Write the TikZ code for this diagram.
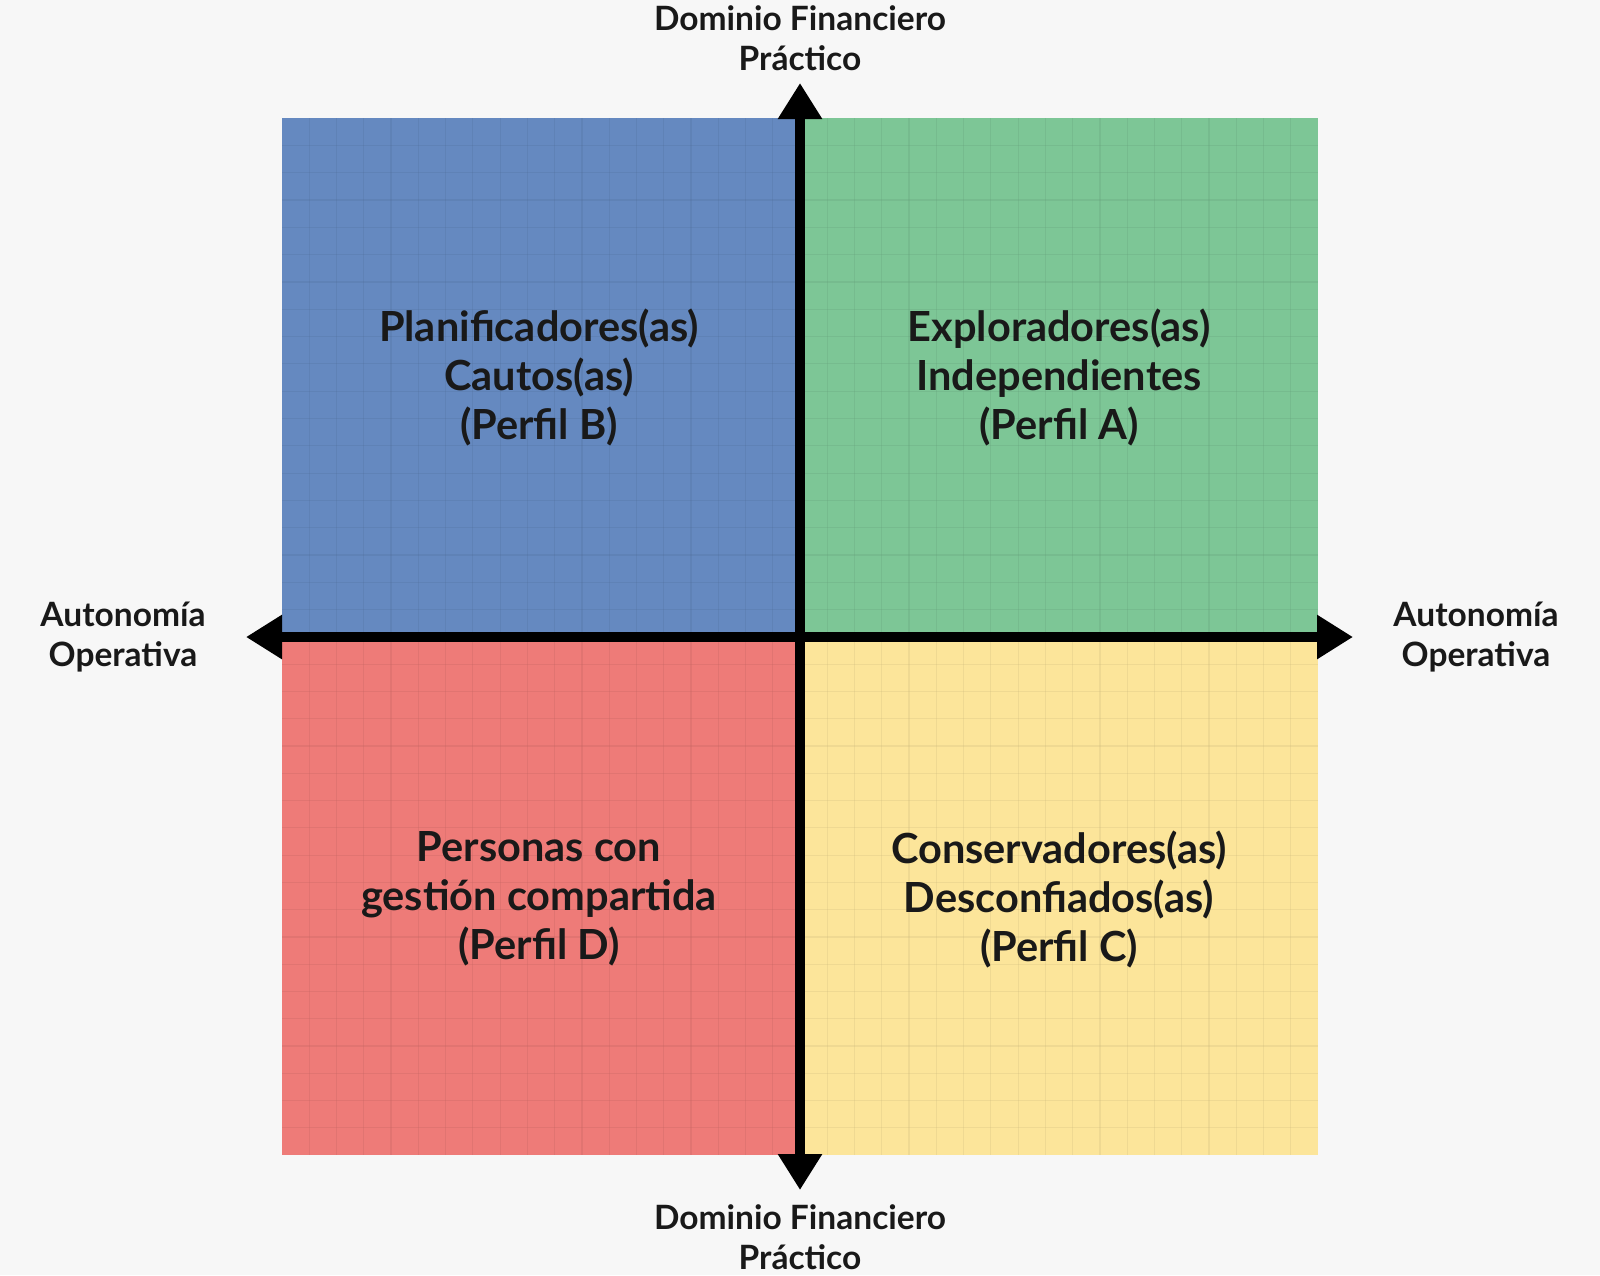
\documentclass[tikz,border=0pt]{standalone}
\usepackage{fontspec}
\setmainfont{Lato}
\usetikzlibrary{arrows.meta}
\definecolor{bgc}{HTML}{F7F7F7}
\definecolor{qblue}{HTML}{6589C0}
\definecolor{qgreen}{HTML}{7DC696}
\definecolor{qred}{HTML}{EE7B78}
\definecolor{qyellow}{HTML}{FCE59A}
\tikzset{
  quadlabel/.style={align=center,font=\bfseries\fontsize{41.5}{49}\selectfont,text=black!90},
  axislabel/.style={align=center,font=\bfseries\fontsize{33.5}{39.5}\selectfont,text=black!90},
  axisline/.style={line width=10pt,{Triangle[length=36pt,width=42pt]}-{Triangle[length=36pt,width=42pt]}},
}
\newcommand{\quadfill}[5]{%
  \fill[#5] (#1,#2) rectangle (#3,#4);
  \foreach \i in {1,...,18}{
    \draw[#5!80!black,opacity=0.25,line width=1.2pt] ({#1+(#3-#1)*\i/19},#2) -- ({#1+(#3-#1)*\i/19},#4);
    \draw[#5!80!black,opacity=0.25,line width=1.2pt] (#1,{#2+(#4-#2)*\i/19}) -- (#3,{#2+(#4-#2)*\i/19});
  }
}
\begin{document}
\begin{tikzpicture}[x=1pt,y=-1pt]
\fill[bgc] (0,0) rectangle (1600,1275);
\useasboundingbox (0,0) rectangle (1600,1275);
\quadfill{282}{118}{800}{637}{qblue}
\quadfill{800}{118}{1318}{637}{qgreen}
\quadfill{282}{637}{800}{1155}{qred}
\quadfill{800}{637}{1318}{1155}{qyellow}
\coordinate (top) at (800,83);
\coordinate (bot) at (800,1190);
\coordinate (lft) at (246,637);
\coordinate (rgt) at (1353,637);
\draw[axisline] (lft) -- (rgt);
\draw[axisline] (top) -- (bot);
\node[quadlabel] (qb) at (539,377) {Planificadores(as)\\Cautos(as)\\(Perfil B)};
\node[quadlabel] (qa) at (1059,377) {Exploradores(as)\\Independientes\\(Perfil A)};
\node[quadlabel] (qd) at (539,899) {Personas con\\gestión compartida\\(Perfil D)};
\node[quadlabel] (qc) at (1059,899) {Conservadores(as)\\Desconfiados(as)\\(Perfil C)};
\node[axislabel] (lt) at (800,38) {Dominio Financiero\\Práctico};
\node[axislabel] (lb) at (800,1237) {Dominio Financiero\\Práctico};
\node[axislabel] (ll) at (123,637) {Autonomía\\Operativa};
\node[axislabel] (lr) at (1476,637) {Autonomía\\Operativa};
\end{tikzpicture}
\end{document}
